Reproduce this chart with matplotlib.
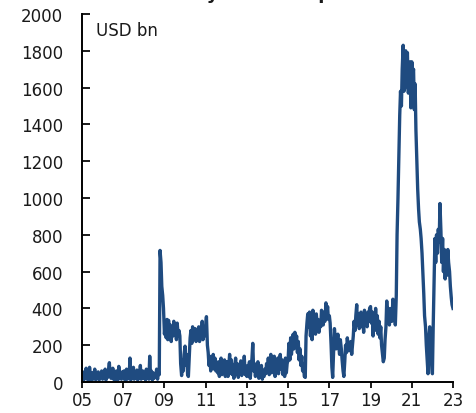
import pandas as pd
import matplotlib
matplotlib.use("Agg")
import matplotlib.pyplot as plt
import matplotlib.dates as mdates

# Treasury cash balance at the Fed, USD bn
y2005 = [30, 55, 10, 40, 20, 75, 15, 45, 10, 80, 25, 8, 50, 15, 35, 70, 12, 40, 20, 55, 10, 35, 25, 60]
y2006 = [15, 45, 20, 70, 10, 40, 25, 65, 105, 30, 20, 35, 75, 15, 45, 10, 60, 30, 12, 85, 20, 40, 15, 55]
y2007 = [25, 60, 10, 40, 70, 15, 45, 20, 130, 10, 55, 30, 80, 15, 40, 20, 65, 10, 50, 25, 90, 15, 40, 60]
y2008 = [20, 50, 10, 70, 30, 45, 15, 140, 25, 60, 10, 50, 20, 45, 30, 70, 15, 55, 40, 715, 650, 520, 470, 400]
y2009 = [260, 320, 240, 340, 230, 335, 260, 310, 220, 290, 250, 330, 270, 300, 230, 320, 250, 280, 250, 100, 35, 120, 60, 150]
y2010 = [195, 90, 150, 40, 30, 120, 240, 280, 210, 300, 230, 260, 290, 220, 270, 250, 300, 220, 280, 240, 330, 230, 290, 250]
y2011 = [310, 355, 200, 160, 90, 140, 60, 120, 100, 150, 70, 130, 60, 90, 50, 110, 30, 80, 130, 40, 100, 60, 120, 30]
y2012 = [60, 110, 30, 90, 150, 50, 120, 40, 95, 20, 80, 130, 45, 100, 25, 85, 60, 115, 35, 90, 50, 140, 40, 75]
y2013 = [30, 90, 50, 110, 20, 70, 130, 210, 60, 100, 30, 80, 50, 110, 20, 60, 40, 90, 15, 50, 30, 70, 45, 100]
y2014 = [60, 130, 40, 100, 150, 50, 120, 70, 140, 30, 100, 60, 130, 45, 110, 150, 70, 120, 40, 90, 30, 130, 50, 100]
y2015 = [120, 210, 120, 240, 150, 200, 260, 180, 270, 210, 250, 160, 220, 120, 180, 90, 140, 60, 100, 30, 25, 250, 320, 370]
y2016 = [300, 380, 250, 330, 230, 390, 290, 350, 260, 370, 300, 340, 270, 330, 300, 390, 350, 310, 380, 330, 430, 360, 410, 340]
y2017 = [360, 320, 200, 80, 25, 150, 290, 240, 180, 220, 260, 200, 150, 230, 180, 120, 60, 30, 110, 200, 160, 240, 190, 170]
y2018 = [180, 220, 150, 200, 250, 330, 280, 360, 420, 310, 370, 290, 340, 380, 300, 350, 270, 390, 320, 360, 300, 380, 330, 400]
y2019 = [410, 320, 380, 250, 350, 280, 400, 310, 360, 260, 330, 240, 300, 200, 150, 110, 130, 230, 300, 440, 330, 400, 310, 380]
y2020 = [400, 330, 450, 360, 420, 310, 470, 800, 1000, 1200, 1450, 1580, 1500, 1700, 1830, 1580, 1600, 1800, 1620, 1790, 1570, 1700, 1740, 1490]
y2021 = [1740, 1660, 1700, 1480, 1620, 1370, 1200, 1050, 940, 870, 830, 780, 700, 600, 480, 360, 300, 200, 120, 45, 250, 300, 200, 120]
y2022 = [45, 300, 560, 780, 650, 800, 700, 830, 760, 970, 820, 650, 780, 600, 720, 560, 680, 580, 720, 650, 600, 520, 460, 420]
y2023 = [400]

tick_years = [2005, 2007, 2009, 2011, 2013, 2015, 2017, 2019, 2021, 2023]

tga = (y2005 + y2006 + y2007 + y2008 + y2009 + y2010 + y2011 + y2012 + y2013
       + y2014 + y2015 + y2016 + y2017 + y2018 + y2019 + y2020 + y2021 + y2022 + y2023)
dates = pd.date_range("2005-01-01", periods=len(tga), freq="SMS")

plt.rcParams["font.family"] = ["DejaVu Sans"]

fig = plt.figure(figsize=(4.77, 4.14), dpi=100)
ax = fig.add_axes([82 / 477, 31 / 414, 371 / 477, 368 / 414])

ax.plot(dates, tga, color="#1f4b80", lw=2.4, solid_joinstyle="round")

ax.set_ylim(0, 2000)
ax.set_yticks(range(0, 2001, 200))
ax.set_xlim(pd.Timestamp("2005-01-01"), pd.Timestamp("2023-01-01"))
ax.set_xticks([pd.Timestamp(f"{y}-01-01") for y in tick_years])
ax.xaxis.set_major_formatter(mdates.DateFormatter("%y"))

for s in ["top", "right"]:
    ax.spines[s].set_visible(False)
for s in ["left", "bottom"]:
    ax.spines[s].set_linewidth(1.4)

ax.tick_params(axis="y", direction="in", length=5.5, width=1.4, pad=13.5,
               labelsize=12, colors="#1a1a1a")
ax.tick_params(axis="x", direction="out", length=4, width=1.4, pad=2.5,
               labelsize=12, colors="#1a1a1a")

fig.text(96 / 477, 1 - 36 / 414, "USD bn", fontsize=12, color="#1a1a1a")

# chart title sits above the crop, only its lowest strip shows
fig.text(0.535, 1 + 1 / 414, "Treasury's cash deposits", ha="center",
         va="baseline", fontsize=13, fontweight="bold", color="#1a1a1a")

fig.savefig("out.png", dpi=100)
